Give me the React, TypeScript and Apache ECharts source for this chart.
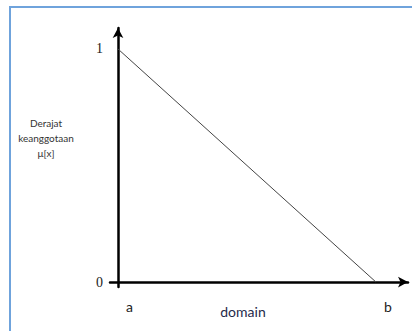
import React, { useEffect, useRef } from "react";
import * as echarts from "echarts";

// Linear-down membership function: full membership at a, zero at b.
const xTicks = [0, 1];
const xTickLabels = ["a", "b"];
const yTicks = [0, 1];
const yTickLabels = ["0", "1"];
const membership: [number, number][] = [
  [0, 1],
  [1, 0],
];
const yTitle = "Derajat\nkeanggotaan\nμ[x]";
const xTitle = "domain";

export default function App() {
  const ref = useRef<HTMLDivElement>(null);

  useEffect(() => {
    document.body.style.margin = "0";
    if (!ref.current) return;
    const chart = echarts.init(ref.current, undefined, { renderer: "svg" });
    chart.setOption({
      animation: false,
      backgroundColor: "#ffffff",
      grid: { left: 110, right: 4, top: 28, bottom: 44, containLabel: false },
      xAxis: {
        type: "value",
        min: -0.031,
        max: 1.124,
        splitLine: { show: false },
        axisLine: {
          onZero: true,
          symbol: ["none", "arrow"],
          symbolSize: [8, 10],
          lineStyle: { color: "#000", width: 2.5 },
        },
        axisTick: { show: false },
        axisLabel: {
          customValues: xTicks,
          formatter: (v: number) => xTickLabels[xTicks.indexOf(v)] ?? "",
          margin: 12,
          fontFamily: "Lato",
          fontSize: 14,
          color: "#222",
          align: "left",
          padding: [0, 0, 0, 8],
        },
      },
      yAxis: {
        type: "value",
        min: -0.021,
        max: 1.09,
        splitLine: { show: false },
        axisLine: {
          onZero: true,
          symbol: ["none", "arrow"],
          symbolSize: [8, 10],
          lineStyle: { color: "#000", width: 2.5 },
        },
        axisTick: { show: false },
        axisLabel: {
          customValues: yTicks,
          formatter: (v: number) => yTickLabels[yTicks.indexOf(v)] ?? "",
          margin: 7,
          fontFamily: "Liberation Serif",
          fontSize: 14,
          color: "#222",
        },
      },
      series: [
        {
          type: "line",
          data: membership,
          symbol: "none",
          lineStyle: { color: "#444", width: 1 },
        },
      ],
      graphic: [
        {
          type: "rect",
          shape: { x: 10, y: 7, width: 420, height: 340 },
          style: { fill: "none", stroke: "#6fa3dc", lineWidth: 2 },
          silent: true,
        },
        {
          type: "text",
          x: 46,
          y: 115,
          style: {
            text: yTitle,
            fontFamily: "Lato",
            fontSize: 10,
            lineHeight: 15,
            fill: "#333",
            align: "center",
          },
        },
        {
          type: "text",
          x: 243,
          y: 304,
          style: {
            text: xTitle,
            fontFamily: "Lato",
            fontSize: 14,
            fill: "#1f2a4a",
            align: "center",
          },
        },
      ],
    });
    return () => chart.dispose();
  }, []);

  return <div ref={ref} style={{ width: 412, height: 331 }} />;
}
